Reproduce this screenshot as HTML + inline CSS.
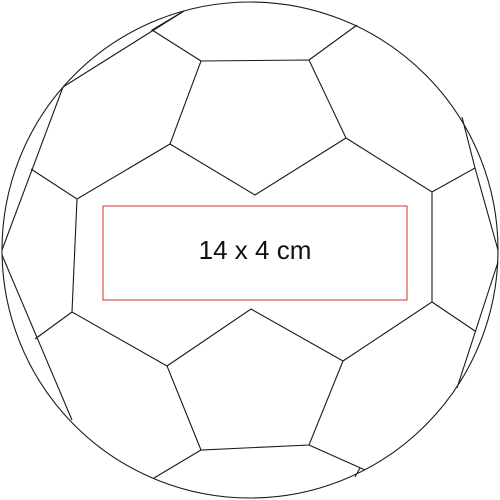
<!DOCTYPE html>
<html><head><meta charset="utf-8"><style>html,body{margin:0;padding:0;background:#fff}svg{display:block}</style></head>
<body>
<svg width="500" height="500" viewBox="0 0 500 500" xmlns="http://www.w3.org/2000/svg">
<g fill="none" stroke="#1a1a1a" stroke-width="1.1">
<circle cx="250" cy="250" r="248"/>
<polygon points="201,61 309,60 346,138 255,195 170,144"/>
<polygon points="251,309 343,361 309,445 201,450 167,366"/>
<polyline points="184,11 152,30 201,61"/>
<polyline points="184,11 63,87 2,250"/>
<polyline points="31,169 77,199 170,144"/>
<polyline points="77,199 72,312 167,366"/>
<polyline points="35,339 72,312"/>
<polyline points="2,255 72,420"/>
<polyline points="309,60 357,25"/>
<polyline points="346,138 432,192 475,168 462,117"/>
<polyline points="475,168 498,250"/>
<polyline points="432,192 432,302 343,361"/>
<polyline points="432,302 475,331"/>
<polyline points="498,262 457,388"/>
<polyline points="201,450 154,478"/>
<polyline points="309,445 365,470"/>
<polyline points="355,477 360,468"/>
</g>
<rect x="103" y="206" width="304" height="94" fill="none" stroke="#d9534f" stroke-width="1.2"/>
<text x="255" y="259" text-anchor="middle" font-family="Liberation Sans, sans-serif" font-size="26" fill="#111">14 x 4 cm</text>
</svg>
</body></html>
